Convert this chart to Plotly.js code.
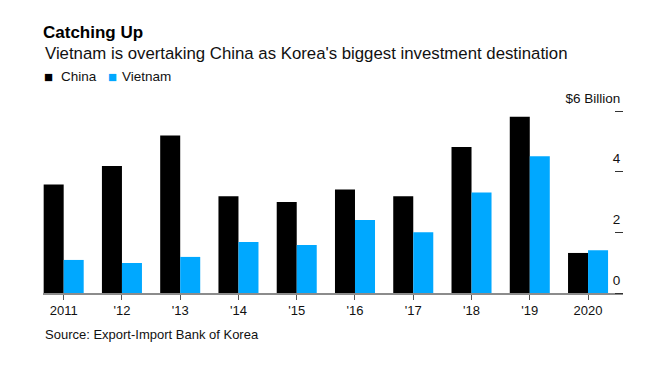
<!DOCTYPE html>
<html>
<head>
<meta charset="utf-8">
<script src="https://cdn.plot.ly/plotly-3.0.1.min.js"></script>
<style>html,body{margin:0;padding:0;background:#fff;}#chart{width:660px;height:373px;}</style>
</head>
<body>
<div id="chart"></div>
<script>
// Data
var years = ['2011', "'12", "'13", "'14", "'15", "'16", "'17", "'18", "'19", '2020'];
var china = [3.58, 4.19, 5.19, 3.19, 3.00, 3.41, 3.19, 4.81, 5.81, 1.32];
var vietnam = [1.09, 0.99, 1.19, 1.68, 1.58, 2.41, 2.00, 3.31, 4.51, 1.41];
var seriesNames = ['China', 'Vietnam'];
var seriesColors = ['#000000', '#00a8ff'];
var yTickVals = [0, 2, 4, 6];
var yTickText = ['0', '2', '4', '$6 Billion'];

var FONT = 'Liberation Sans, Arial, sans-serif';
var W = 660, H = 373;
var L = 43, R = 37, T = 88, B = 80;
var plotW = W - L - R, plotH = H - T - B;
function py(p) { return (H - B - p) / plotH; }
function px(p) { return (p - L) / plotW; }

var traces = [
  {type: 'bar', x: years, y: china, name: seriesNames[0], marker: {color: seriesColors[0], line: {width: 0}}, hoverinfo: 'none'},
  {type: 'bar', x: years, y: vietnam, name: seriesNames[1], marker: {color: seriesColors[1], line: {width: 0}}, hoverinfo: 'none'}
];

function legendKey(i, xSq, xTxt) {
  return [
    {text: '<span style="font-size:15px">■</span>', xref: 'paper', yref: 'paper', x: px(xSq), y: py(77),
     xanchor: 'left', yanchor: 'middle', showarrow: false,
     font: {family: FONT, size: 15, color: seriesColors[i]}},
    {text: seriesNames[i], xref: 'paper', yref: 'paper', x: px(xTxt), y: py(77),
     xanchor: 'left', yanchor: 'middle', showarrow: false,
     font: {family: FONT, size: 13.5, color: '#111111'}}
  ];
}

var layout = {
  width: W, height: H,
  margin: {l: L, r: R, t: T, b: B, pad: 0},
  paper_bgcolor: '#ffffff', plot_bgcolor: '#ffffff',
  font: {family: FONT, color: '#111111', size: 13},
  barmode: 'group', bargap: 0.313, bargroupgap: 0,
  title: {
    text: '<b>Catching Up</b>',
    font: {family: FONT, size: 17, color: '#000000'},
    x: 43 / W, xref: 'container', xanchor: 'left',
    y: 1 - 32 / H, yref: 'container', yanchor: 'middle'
  },
  showlegend: false,
  xaxis: {
    type: 'category', categoryorder: 'array', categoryarray: years,
    range: [-0.355, 9.6], fixedrange: true,
    showline: true, linecolor: '#8c8c8c', linewidth: 1.5,
    ticks: 'outside', ticklen: 5, tickwidth: 1, tickcolor: '#555555',
    showgrid: false, zeroline: false,
    tickfont: {family: FONT, size: 13, color: '#111111'}
  },
  yaxis: {
    anchor: 'free', position: 1, side: 'left',
    range: [0, plotH / 30.33], fixedrange: true,
    tickmode: 'array', tickvals: yTickVals, ticktext: yTickText,
    ticks: 'outside', ticklen: 8, tickwidth: 1, tickcolor: '#333333',
    ticklabelposition: 'outside top', ticklabelshift: -3,
    showline: false, showgrid: false, zeroline: false,
    tickfont: {family: FONT, size: 13.5, color: '#111111'}
  },
  annotations: [
    {text: "Vietnam is overtaking China as Korea's biggest investment destination",
     xref: 'paper', yref: 'paper', x: 0, y: py(53), xanchor: 'left', yanchor: 'middle',
     showarrow: false, font: {family: FONT, size: 16.8, color: '#111111'}},
    {text: 'Source: Export-Import Bank of Korea',
     xref: 'paper', yref: 'paper', x: 0, y: py(334), xanchor: 'left', yanchor: 'middle',
     showarrow: false, font: {family: FONT, size: 13, color: '#111111'}}
  ].concat(legendKey(0, 42, 59)).concat(legendKey(1, 106, 120))
};

Plotly.newPlot('chart', traces, layout, {displayModeBar: false, staticPlot: true});
</script>
</body>
</html>
